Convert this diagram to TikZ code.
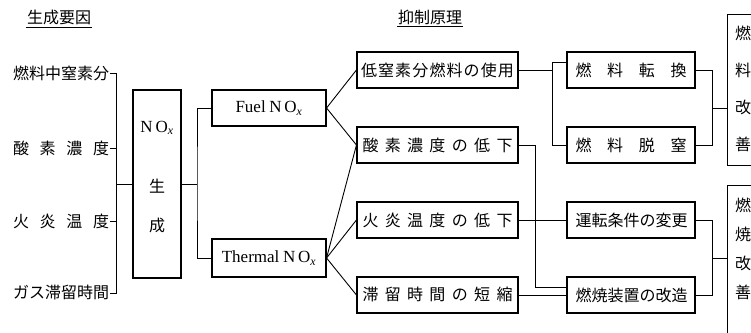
\documentclass[tikz,border=0pt]{standalone}
\usepackage{fontspec}
\newfontfamily\jp{Noto Sans CJK JP}
\newfontfamily\lat{Liberation Serif}
\newcommand{\spread}[2]{\makebox[#1][s]{#2}}
\newcommand{\nox}{{\lat\fontsize{17}{18}\selectfont N\,O\textsubscript{\itshape x}}}
\newcommand{\cols}{
\def\xl{110}   % right end of the factor labels
\def\xm{437.5} % centre of the principle boxes
\def\xr{631}   % centre of the method boxes
}
\tikzset{
  box/.style={draw, line width=1.1pt, minimum height=36pt, inner sep=0pt,
              font=\jp\fontsize{16}{18}\selectfont},
  lbl/.style={inner sep=0.5pt, font=\jp\fontsize{16}{18}\selectfont},
  vtext/.style={inner sep=0pt, align=center},
}

\begin{document}
\begin{tikzpicture}[x=1pt,y=-1pt,line width=0.9pt]
  \cols
  \useasboundingbox (0,0) rectangle (751,332);
  \clip (0,0) rectangle (751,332);
%
  \node[lbl] (t1) at (59,17) {生成要因};
  \node[lbl] (t2) at (430,17) {抑制原理};
  \draw[line width=0.7pt] ([yshift=-1.5pt]t1.south west) -- ([yshift=-1.5pt]t1.south east);
  \draw[line width=0.7pt] ([yshift=-1.5pt]t2.south west) -- ([yshift=-1.5pt]t2.south east);
%
  \node[lbl,anchor=east] (f1) at (\xl,73)  {燃料中窒素分};
  \node[lbl,anchor=east] (f2) at (\xl,148) {\spread{96pt}{酸\hfill 素\hfill 濃\hfill 度}};
  \node[lbl,anchor=east] (f3) at (\xl,221) {\spread{96pt}{火\hfill 炎\hfill 温\hfill 度}};
  \node[lbl,anchor=east] (f4) at (\xl,293) {ガス滞留時間};
%
  \node[box,minimum width=48pt,minimum height=188pt] (nox) at (157,184) {};
  \node[lbl] (nox1) at (157,128) {\nox};
  \node[lbl] (nox2) at (157,186) {生};
  \node[lbl] (nox3) at (157,225) {成};
%
  \coordinate (lb) at (116,184);
  \draw[] (f1.east) -- (f1.east -| lb) -- (f4.east -| lb) -- (f4.east);
  \draw[] (f2.east) -- (f2.east -| lb);
  \draw[] (f3.east) -- (f3.east -| lb);
  \draw[] (lb) -- (nox.west);
%
  \node[box,minimum width=114pt] (fuel) at (269,108) {{\lat\fontsize{17}{18}\selectfont Fuel} \nox};
  \node[box,minimum width=114pt,minimum height=38pt] (therm) at (269,258) {{\lat\fontsize{17}{18}\selectfont Thermal} \nox};
  \coordinate (nb) at (197,184);
  \draw[] (nox.east) -- (nb);
  \draw[] (fuel.west) -| (nb) |- (therm.west);
%
  \node[box,minimum width=161pt] (m1) at (\xm,70)  {\spread{153pt}{低\hfill 窒\hfill 素\hfill 分\hfill 燃\hfill 料\hfill の\hfill 使\hfill 用}};
  \node[box,minimum width=161pt] (m2) at (\xm,145) {\spread{150pt}{酸\hfill 素\hfill 濃\hfill 度\hfill の\hfill 低\hfill 下}};
  \node[box,minimum width=161pt] (m3) at (\xm,220) {\spread{150pt}{火\hfill 炎\hfill 温\hfill 度\hfill の\hfill 低\hfill 下}};
  \node[box,minimum width=161pt] (m4) at (\xm,295) {\spread{150pt}{滞\hfill 留\hfill 時\hfill 間\hfill の\hfill 短\hfill 縮}};
  \draw[] (fuel.east) -- (m1.west);
  \draw[] (fuel.east) -- (m2.west);
  \draw[] (therm.east) -- (m2.west);
  \draw[] (therm.east) -- (m3.west);
  \draw[] (therm.east) -- (m4.west);
%
  \node[box,minimum width=128pt] (r1) at (\xr,70)  {\spread{111pt}{燃\hfill 料\hfill 転\hfill 換}};
  \node[box,minimum width=128pt] (r2) at (\xr,145) {\spread{111pt}{燃\hfill 料\hfill 脱\hfill 窒}};
  \node[box,minimum width=128pt] (r3) at (\xr,220) {\spread{111pt}{運\hfill 転\hfill 条\hfill 件\hfill の\hfill 変\hfill 更}};
  \node[box,minimum width=128pt] (r4) at (\xr,295) {\spread{111pt}{燃\hfill 焼\hfill 装\hfill 置\hfill の\hfill 改\hfill 造}};
  \coordinate (fb) at (552,70);
  \draw[] (m1.east) -- (fb);
  \draw[] ([yshift=8pt]r1.west) -| (fb) |- (r2.west);
  \coordinate (ob) at (535,145);
  \draw[] (m2.east) -- (ob) |- ([yshift=8pt]r4.west);
  \draw[] (m3.east) -- (r3.west);
  \draw[] (m4.east) -- (r4.west);
%
  \node[box,anchor=north west,minimum width=40pt,minimum height=151pt] (big1) at (727,14) {};
  \node[vtext,font=\jp\fontsize{16}{37}\selectfont] (big1t) at (743,89) {燃\\料\\改\\善};
  \node[box,anchor=north west,minimum width=40pt,minimum height=200pt] (big2) at (727,185) {};
  \node[vtext,font=\jp\fontsize{16}{29}\selectfont] (big2t) at (743,249) {燃\\焼\\改\\善};
  \coordinate (kb1) at (712,108);
  \coordinate (kb2) at (712,258);
  \draw[] (r1.east) -| (kb1) |- (r2.east);
  \draw[] (kb1) -- (kb1 -| big1.west);
  \draw[] (r3.east) -| (kb2) |- (r4.east);
  \draw[] (kb2) -- (kb2 -| big2.west);
\end{tikzpicture}
\end{document}
